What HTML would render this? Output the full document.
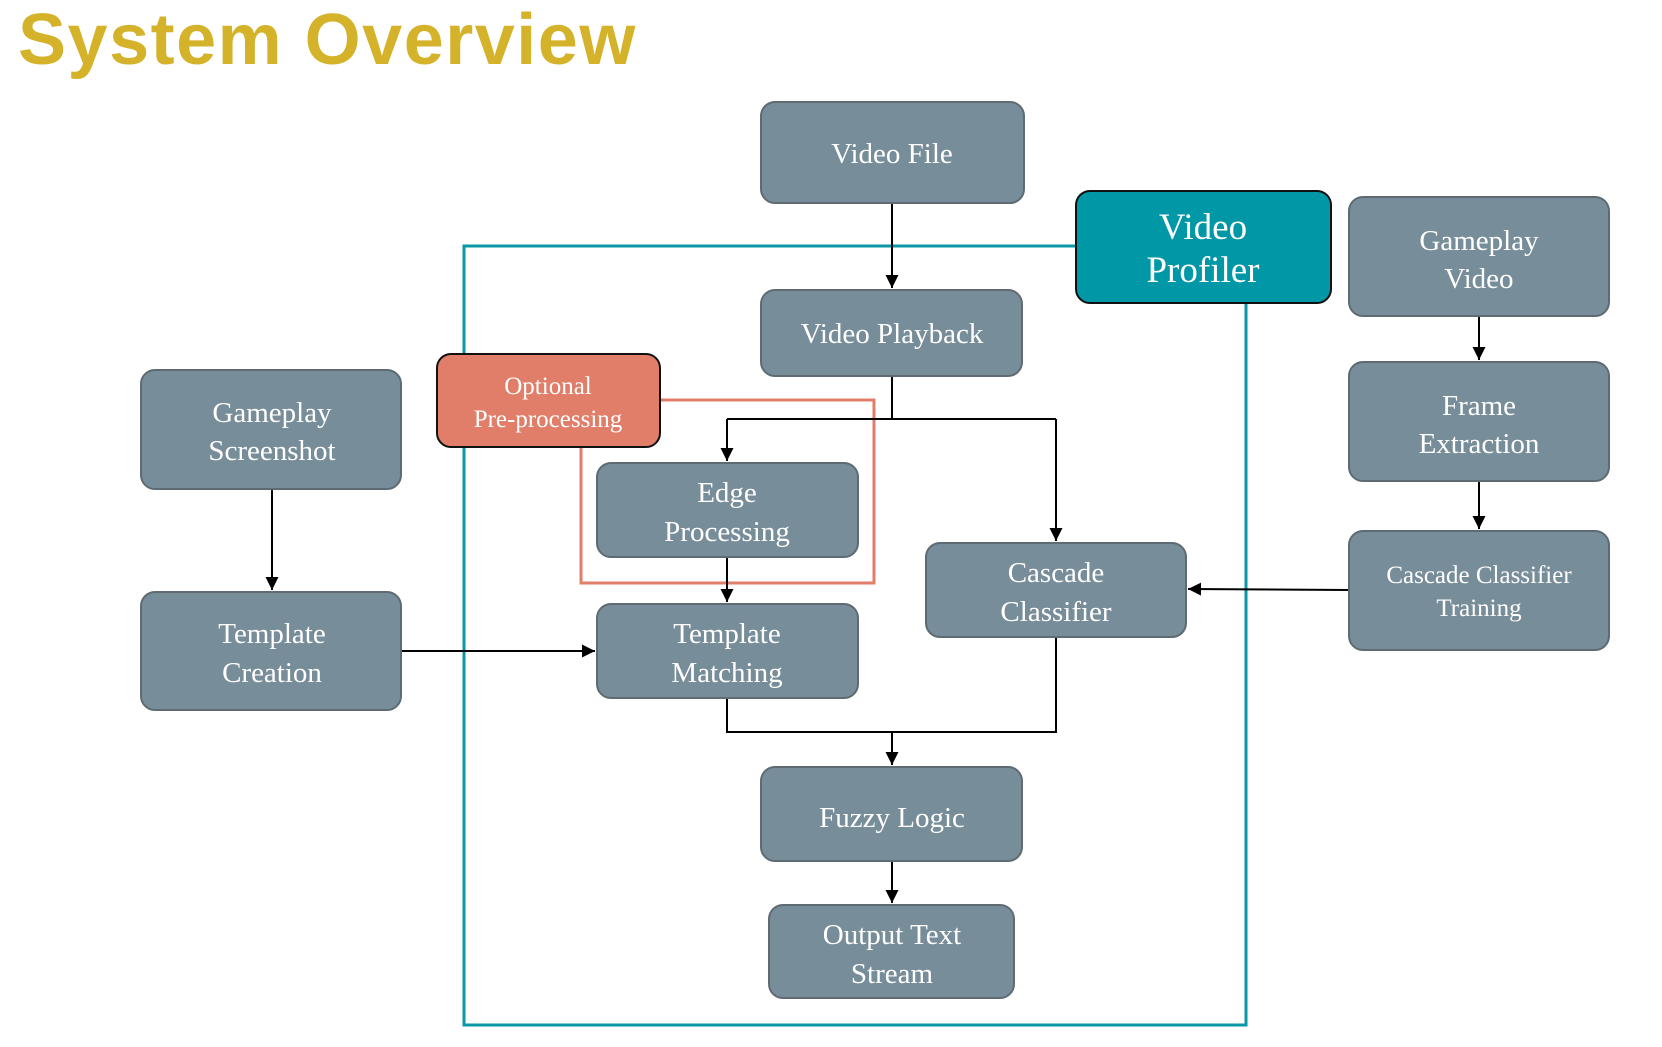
<!DOCTYPE html>
<html><head><meta charset="utf-8"><style>
html,body{margin:0;padding:0;background:#fff;}
svg{display:block;}
</style></head><body>
<svg width="1662" height="1047" viewBox="0 0 1662 1047" xmlns="http://www.w3.org/2000/svg">
<defs>
<marker id="a" markerWidth="14" markerHeight="14" refX="13" refY="6.5" orient="auto" markerUnits="userSpaceOnUse">
<path d="M0,0 L13,6.5 L0,13 z" fill="#000"/></marker>
</defs>
<text x="18" y="64" font-family="Liberation Sans, sans-serif" font-weight="bold" font-size="72" letter-spacing="1.5" fill="#D4B22A">System Overview</text>

<rect x="464" y="246" width="782" height="779" fill="none" stroke="#0A97A6" stroke-width="3"/>
<rect x="581" y="400" width="293" height="183" fill="none" stroke="#E07E6A" stroke-width="3"/>

<g stroke="#000" stroke-width="2" fill="none">
<path d="M892,203 V288" marker-end="url(#a)"/>
<path d="M892,376 V419 M727,419 H1056"/>
<path d="M727,419 V461" marker-end="url(#a)"/>
<path d="M1056,419 V541" marker-end="url(#a)"/>
<path d="M727,557 V602" marker-end="url(#a)"/>
<path d="M401,651 H595" marker-end="url(#a)"/>
<path d="M272,489 V590" marker-end="url(#a)"/>
<path d="M727,698 V732 H1056 V637"/>
<path d="M892,732 V765" marker-end="url(#a)"/>
<path d="M892,861 V903" marker-end="url(#a)"/>
<path d="M1479,316 V360" marker-end="url(#a)"/>
<path d="M1479,481 V529" marker-end="url(#a)"/>
<path d="M1349,590 L1188,589" marker-end="url(#a)"/>
</g>

<g fill="#778D99" stroke="#5f6b72" stroke-width="2">
<rect x="761" y="102" width="263" height="101" rx="14"/>
<rect x="1349" y="197" width="260" height="119" rx="14"/>
<rect x="761" y="290" width="261" height="86" rx="14"/>
<rect x="141" y="370" width="260" height="119" rx="14"/>
<rect x="1349" y="362" width="260" height="119" rx="14"/>
<rect x="597" y="463" width="261" height="94" rx="14"/>
<rect x="926" y="543" width="260" height="94" rx="14"/>
<rect x="1349" y="531" width="260" height="119" rx="14"/>
<rect x="141" y="592" width="260" height="118" rx="14"/>
<rect x="597" y="604" width="261" height="94" rx="14"/>
<rect x="761" y="767" width="261" height="94" rx="14"/>
<rect x="769" y="905" width="245" height="93" rx="14"/>
</g>
<rect x="1076" y="191" width="255" height="112" rx="14" fill="#0097A7" stroke="#111" stroke-width="2"/>
<rect x="437" y="354" width="223" height="93" rx="14" fill="#E07E6A" stroke="#111" stroke-width="2"/>

<g font-family="Liberation Serif, serif" fill="#fff" text-anchor="middle" font-size="29">
<text x="892" y="163">Video File</text>
<text x="1479" y="250">Gameplay</text><text x="1479" y="288">Video</text>
<text x="892" y="343">Video Playback</text>
<text x="272" y="422">Gameplay</text><text x="272" y="460">Screenshot</text>
<text x="1479" y="415">Frame</text><text x="1479" y="453">Extraction</text>
<text x="727" y="502">Edge</text><text x="727" y="541">Processing</text>
<text x="1056" y="582">Cascade</text><text x="1056" y="621">Classifier</text>
<text x="272" y="643">Template</text><text x="272" y="682">Creation</text>
<text x="727" y="643">Template</text><text x="727" y="682">Matching</text>
<text x="892" y="827">Fuzzy Logic</text>
<text x="892" y="944">Output Text</text><text x="892" y="983">Stream</text>
<g font-size="25">
<text x="1479" y="583">Cascade Classifier</text><text x="1479" y="616">Training</text>
<text x="548" y="394">Optional</text><text x="548" y="427">Pre-processing</text>
</g>
<g font-size="37">
<text x="1203" y="239">Video</text><text x="1203" y="282">Profiler</text>
</g>
</g>
</svg>
</body></html>
